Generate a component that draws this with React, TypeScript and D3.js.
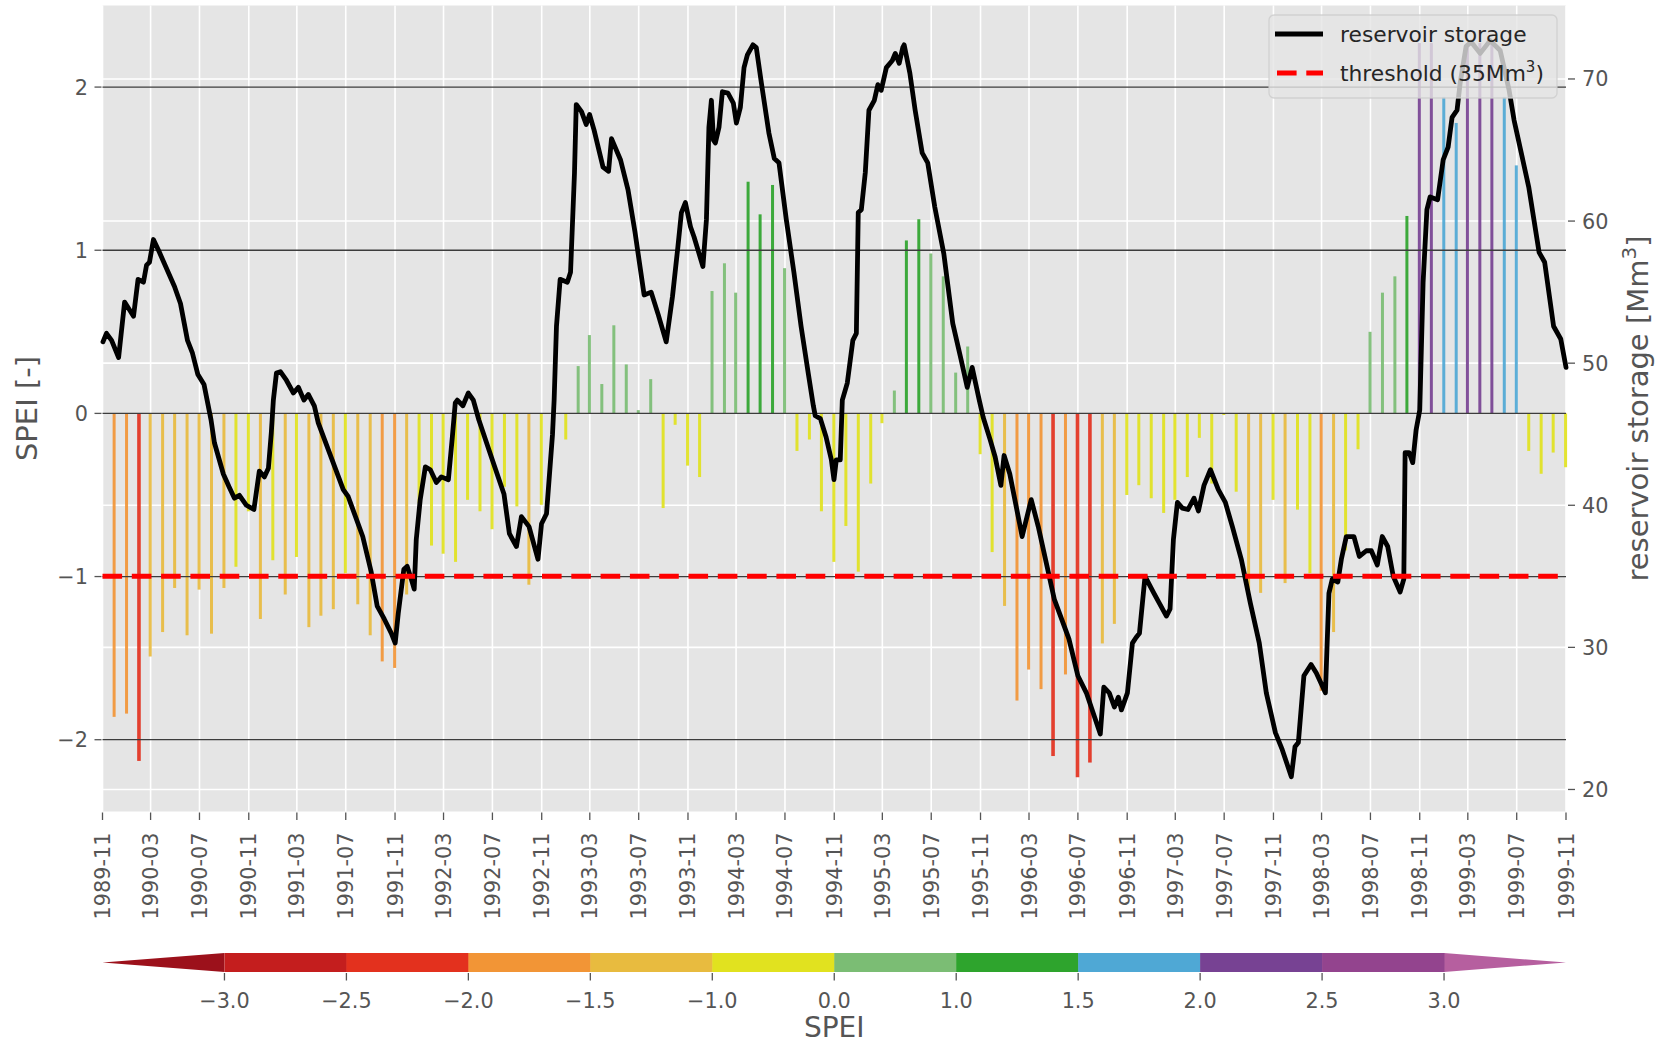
import { useEffect, useRef } from 'react'
import * as d3 from 'd3'

// monthly SPEI, first value is 1989-11 (plotted at month end)
const speiStart = new Date(1989, 10, 1)
const speiValues = [
  -1.86, -1.84, -2.13, -1.49, -1.34, -1.07, -1.36, -1.08, -1.35, -1.07, -0.94, -0.6,
  -1.26, -0.9, -1.11, -0.88, -1.31, -1.24, -1.2, -0.98, -1.17, -1.36, -1.52, -1.56,
  -1.11, -0.55, -0.81, -0.86, -0.91, -0.53, -0.6, -0.71, -0.45, -0.57, -1.05, -0.56,
  0.04, -0.16, 0.29, 0.48, 0.18, 0.54, 0.3, 0.02, 0.21, -0.58, -0.07, -0.32,
  -0.39, 0.75, 0.92, 0.74, 1.42, 1.22, 1.4, 0.89, -0.23, -0.16, -0.6, -0.91,
  -0.69, -0.97, -0.43, -0.06, 0.14, 1.06, 1.19, 0.98, 0.84, 0.25, 0.41, -0.25,
  -0.85, -1.18, -1.76, -1.57, -1.69, -2.1, -1.6, -2.23, -2.14, -1.41, -1.29, -0.5,
  -0.44, -0.52, -0.61, -0.53, -0.39, -0.15, -0.43, -0.01, -0.48, -1.12, -1.1, -0.53,
  -1.04, -0.59, -0.98, -1.7, -1.34, -0.84, -0.22, 0.5, 0.74, 0.84, 1.21, 2.27,
  2.27, 1.94, 1.78, 2.27, 2.27, 2.27, 1.94, 1.52, -0.23, -0.37, -0.24, -0.33,
]

// reservoir storage [Mm3], time as decimal year
const storageYears = [
  1989.836, 1989.86, 1989.895, 1989.943, 1989.984, 1990.045, 1990.076, 1990.113, 1990.134, 1990.154,
  1990.181, 1990.222, 1990.325, 1990.366, 1990.414, 1990.448, 1990.485, 1990.527, 1990.575, 1990.598,
  1990.659, 1990.698, 1990.735, 1990.769, 1990.817, 1990.868, 1990.905, 1990.94, 1990.967, 1990.987,
  1991.001, 1991.022, 1991.049, 1991.09, 1991.138, 1991.172, 1991.21, 1991.24, 1991.281, 1991.308,
  1991.479, 1991.513, 1991.612, 1991.67, 1991.711, 1991.759, 1991.807, 1991.834, 1991.855, 1991.893,
  1991.916, 1991.944, 1991.964, 1991.978, 1992.005, 1992.04, 1992.074, 1992.115, 1992.149, 1992.197,
  1992.224, 1992.244, 1992.258, 1992.296, 1992.333, 1992.367, 1992.405, 1992.49, 1992.576, 1992.613,
  1992.661, 1992.695, 1992.747, 1992.808, 1992.832, 1992.866, 1992.907, 1992.918, 1992.934, 1992.959,
  1993.008, 1993.03, 1993.057, 1993.069, 1993.105, 1993.137, 1993.16, 1993.191, 1993.252, 1993.29,
  1993.31, 1993.372, 1993.423, 1993.471, 1993.533, 1993.581, 1993.63, 1993.684, 1993.727, 1993.764,
  1993.788, 1993.815, 1993.85, 1993.874, 1993.935, 1993.959, 1993.976, 1993.993, 1994.007, 1994.02,
  1994.045, 1994.068, 1994.106, 1994.143, 1994.164, 1994.191, 1994.216, 1994.239, 1994.277, 1994.3,
  1994.335, 1994.386, 1994.423, 1994.455, 1994.505, 1994.557, 1994.606, 1994.655, 1994.69, 1994.703,
  1994.738, 1994.777, 1994.813, 1994.831, 1994.847, 1994.874, 1994.888, 1994.922, 1994.96, 1994.984,
  1994.997, 1995.018, 1995.045, 1995.07, 1995.107, 1995.131, 1995.154, 1995.189, 1995.23, 1995.25,
  1995.277, 1995.301, 1995.311, 1995.35, 1995.386, 1995.434, 1995.472, 1995.52, 1995.582, 1995.643,
  1995.701, 1995.742, 1995.776, 1995.824, 1995.851, 1995.899, 1995.933, 1995.972, 1995.994, 1996.033,
  1996.117, 1996.179, 1996.227, 1996.336, 1996.411, 1996.436, 1996.497, 1996.555, 1996.65, 1996.674,
  1996.711, 1996.746, 1996.773, 1996.794, 1996.835, 1996.869, 1996.894, 1996.917, 1996.955, 1997.016,
  1997.101, 1997.126, 1997.149, 1997.176, 1997.21, 1997.248, 1997.29, 1997.32, 1997.358, 1997.402,
  1997.456, 1997.504, 1997.552, 1997.613, 1997.675, 1997.736, 1997.784, 1997.846, 1997.893, 1997.955,
  1997.98, 1998.003, 1998.041, 1998.09, 1998.126, 1998.188, 1998.212, 1998.235, 1998.273, 1998.297,
  1998.331, 1998.383, 1998.42, 1998.468, 1998.502, 1998.543, 1998.577, 1998.614, 1998.652, 1998.699,
  1998.724, 1998.733, 1998.761, 1998.785, 1998.808, 1998.833, 1998.856, 1998.882, 1998.904, 1998.955,
  1998.993, 1999.027, 1999.054, 1999.088, 1999.109, 1999.15, 1999.185, 1999.246, 1999.314, 1999.383,
  1999.444, 1999.478, 1999.578, 1999.649, 1999.687, 1999.748, 1999.797, 1999.833,
]
const storageValues = [
  51.5, 52.1, 51.6, 50.4, 54.3, 53.3, 55.9, 55.7, 56.9, 57.1,
  58.7, 57.8, 55.4, 54.2, 51.6, 50.7, 49.2, 48.5, 46.0, 44.4,
  42.2, 41.3, 40.5, 40.7, 40.0, 39.7, 42.4, 42.0, 42.6, 45.1,
  47.4, 49.3, 49.4, 48.8, 47.9, 48.3, 47.4, 47.8, 47.0, 45.8,
  41.1, 40.6, 37.8, 35.3, 32.9, 32.0, 31.0, 30.3, 32.4, 35.5,
  35.7, 34.8, 34.1, 37.6, 40.4, 42.7, 42.5, 41.6, 42.0, 41.8,
  44.8, 47.2, 47.4, 47.0, 47.9, 47.4, 46.0, 43.4, 40.8, 38.0,
  37.1, 39.2, 38.5, 36.2, 38.7, 39.4, 45.0, 47.4, 52.6, 55.9,
  55.7, 56.4, 63.4, 68.2, 67.7, 66.8, 67.5, 66.4, 63.8, 63.5,
  65.8, 64.3, 62.2, 59.2, 54.8, 55.0, 53.4, 51.5, 54.7, 58.2,
  60.6, 61.3, 59.6, 58.9, 56.8, 60.1, 66.6, 68.5, 65.7, 65.5,
  66.6, 69.1, 69.0, 68.3, 66.9, 68.0, 70.8, 71.7, 72.4, 72.2,
  69.7, 66.2, 64.4, 64.1, 60.1, 56.4, 52.6, 49.3, 47.0, 46.3,
  46.1, 44.8, 43.2, 41.8, 43.2, 43.2, 47.4, 48.6, 51.6, 52.1,
  60.6, 60.8, 63.4, 67.8, 68.5, 69.6, 69.2, 70.8, 71.3, 71.8,
  71.1, 72.2, 72.4, 70.4, 67.8, 64.8, 64.1, 61.0, 57.7, 52.8,
  50.2, 48.3, 49.7, 47.4, 46.2, 44.6, 43.4, 41.4, 43.5, 42.2,
  37.8, 40.4, 38.5, 33.4, 31.3, 30.6, 28.0, 26.8, 23.9, 27.2,
  26.8, 25.8, 26.5, 25.6, 26.8, 30.3, 30.7, 31.0, 35.0, 33.8,
  32.2, 32.7, 37.6, 40.2, 39.8, 39.7, 40.5, 39.6, 41.4, 42.5,
  41.1, 40.2, 38.5, 36.2, 33.1, 30.3, 26.8, 24.0, 22.8, 20.9,
  23.0, 23.3, 28.0, 28.8, 28.2, 26.8, 33.8, 34.8, 34.6, 36.2,
  37.8, 37.8, 36.4, 36.8, 36.8, 35.8, 37.8, 37.1, 35.0, 33.9,
  34.8, 43.7, 43.7, 43.0, 45.3, 46.7, 55.7, 60.8, 61.7, 61.5,
  64.3, 65.2, 67.3, 67.8, 69.7, 72.3, 72.6, 71.8, 72.7, 72.0,
  69.2, 67.1, 62.4, 57.8, 57.1, 52.6, 51.7, 49.7,
]

const threshold = 35

// SPEI classes (colorbar with extensions at both ends)
const speiBounds = [-3, -2.5, -2, -1.5, -1, 0, 1, 1.5, 2, 2.5, 3]
const speiColors = [
  '#9c111b', '#c41e1e', '#e3311e', '#f29536', '#e8bb3f', '#e1e21f',
  '#7bbd74', '#2ea42d', '#4fa8d5', '#774293', '#93448e', '#b65f9f',
]
const speiTicks = [-2, -1, 0, 1, 2]
const storageTicks = [20, 30, 40, 50, 60, 70]
const cbTickLabels = ['−3.0', '−2.5', '−2.0', '−1.5', '−1.0', '0.0', '1.0', '1.5', '2.0', '2.5', '3.0']

const FONT = 'DejaVu Sans, sans-serif'

function yearToDate(t: number) {
  const y = Math.floor(t)
  const a = +new Date(y, 0, 1)
  const b = +new Date(y + 1, 0, 1)
  return new Date(a + (t - y) * (b - a))
}

export default function App() {
  const svgRef = useRef<SVGSVGElement | null>(null)

  useEffect(() => {
    if (!svgRef.current) return
    document.body.style.margin = '0'

    const width = 1656
    const height = 1045
    const left = 102.5
    const right = 1566
    const top = 5.5
    const bottom = 811.5

    const svg = d3.select(svgRef.current)
    svg.selectAll('*').remove()
    svg.attr('width', width).attr('height', height).style('font-family', FONT)

    const x = d3.scaleTime().domain([speiStart, new Date(1999, 10, 1)]).range([left, right])
    const ySpei = d3.scaleLinear().domain([-2.44, 2.5]).range([bottom, top])
    const yStor = d3.scaleLinear().domain([18.45, 75.17]).range([bottom, top])
    const color = d3.scaleThreshold<number, string>().domain(speiBounds).range(speiColors)

    const dateTicks = d3.range(0, 121, 4).map(m => d3.timeMonth.offset(speiStart, m))
    const fmt = d3.timeFormat('%Y-%m')

    // axes background
    svg.append('rect')
      .attr('x', left).attr('y', top)
      .attr('width', right - left).attr('height', bottom - top)
      .attr('fill', '#E5E5E5')

    // grid
    const grid = svg.append('g').attr('stroke', 'white').attr('stroke-width', 1.6)
    grid.selectAll('.vg').data(dateTicks).enter().append('line')
      .attr('x1', d => x(d)).attr('x2', d => x(d))
      .attr('y1', top).attr('y2', bottom)
    grid.selectAll('.hg').data(storageTicks).enter().append('line')
      .attr('x1', left).attr('x2', right)
      .attr('y1', d => yStor(d)).attr('y2', d => yStor(d))

    // SPEI bars
    const bars = speiValues.map((v, i) => ({
      date: d3.timeDay.offset(d3.timeMonth.offset(speiStart, i + 1), -1),
      v,
    }))
    svg.append('g').selectAll('rect').data(bars).enter().append('rect')
      .attr('x', d => x(d.date) - (Math.abs(d.v) >= 2 && d.v < 0 ? 1.8 : 1.5))
      .attr('width', d => (Math.abs(d.v) >= 2 && d.v < 0 ? 3.6 : 3))
      .attr('y', d => ySpei(Math.max(0, d.v)))
      .attr('height', d => Math.abs(ySpei(d.v) - ySpei(0)))
      .attr('fill', d => color(d.v))
      .attr('opacity', 0.92)

    // reference lines at SPEI ticks
    svg.append('g').selectAll('line').data(speiTicks).enter().append('line')
      .attr('x1', left).attr('x2', right)
      .attr('y1', d => ySpei(d)).attr('y2', d => ySpei(d))
      .attr('stroke', '#3c3c3c').attr('stroke-width', 1.3)

    // storage line
    const pts = storageYears.map((t, i) => ({ date: yearToDate(t), v: storageValues[i] }))
    const line = d3.line<{ date: Date; v: number }>().x(d => x(d.date)).y(d => yStor(d.v))
    svg.append('path')
      .attr('d', line(pts))
      .attr('fill', 'none')
      .attr('stroke', 'black')
      .attr('stroke-width', 4.8)
      .attr('stroke-linejoin', 'round')
      .attr('stroke-linecap', 'round')

    // threshold
    svg.append('line')
      .attr('x1', left).attr('x2', right)
      .attr('y1', yStor(threshold)).attr('y2', yStor(threshold))
      .attr('stroke', '#ff0000').attr('stroke-width', 5)
      .attr('stroke-dasharray', '19.6 9.7')

    // legend
    const lg = svg.append('g')
    lg.append('rect')
      .attr('x', 1269).attr('y', 15).attr('width', 288).attr('height', 83).attr('rx', 5)
      .attr('fill', '#E5E5E5').attr('fill-opacity', 0.8)
      .attr('stroke', '#CCCCCC').attr('stroke-opacity', 0.8).attr('stroke-width', 1.3)
    lg.append('line').attr('x1', 1275).attr('x2', 1323).attr('y1', 34).attr('y2', 34)
      .attr('stroke', 'black').attr('stroke-width', 4.8)
    lg.append('line').attr('x1', 1277).attr('x2', 1323).attr('y1', 73).attr('y2', 73)
      .attr('stroke', '#ff0000').attr('stroke-width', 5).attr('stroke-dasharray', '19.6 9.7')
    lg.append('text').attr('x', 1340).attr('y', 42).attr('font-size', 21.8).attr('fill', '#262626')
      .text('reservoir storage')
    const t2 = lg.append('text').attr('x', 1340).attr('y', 81).attr('font-size', 21.8).attr('fill', '#262626')
    t2.append('tspan').text('threshold (35Mm')
    t2.append('tspan').attr('font-size', 15).attr('dy', -9).text('3')
    t2.append('tspan').attr('dy', 9).text(')')

    // tick marks and labels
    const tickColor = '#555555'
    const ax = svg.append('g').attr('fill', tickColor).attr('font-size', 20.8)
    dateTicks.forEach(d => {
      ax.append('line').attr('x1', x(d)).attr('x2', x(d)).attr('y1', bottom + 1).attr('y2', bottom + 8.5)
        .attr('stroke', tickColor).attr('stroke-width', 1.3)
      ax.append('text')
        .attr('transform', `translate(${x(d)},${bottom + 21}) rotate(-90)`)
        .attr('text-anchor', 'end').attr('dy', '0.36em')
        .text(fmt(d))
    })
    speiTicks.forEach(v => {
      ax.append('line').attr('x1', left - 8).attr('x2', left - 1).attr('y1', ySpei(v)).attr('y2', ySpei(v))
        .attr('stroke', tickColor).attr('stroke-width', 1.3)
      ax.append('text').attr('x', left - 14.5).attr('y', ySpei(v)).attr('dy', '0.36em')
        .attr('text-anchor', 'end')
        .text(v < 0 ? '−' + Math.abs(v) : String(v))
    })
    storageTicks.forEach(v => {
      ax.append('line').attr('x1', right + 2).attr('x2', right + 9).attr('y1', yStor(v)).attr('y2', yStor(v))
        .attr('stroke', tickColor).attr('stroke-width', 1.3)
      ax.append('text').attr('x', right + 16).attr('y', yStor(v)).attr('dy', '0.36em')
        .text(String(v))
    })

    // axis labels
    svg.append('text')
      .attr('transform', `translate(26.5,${(top + bottom) / 2}) rotate(-90)`)
      .attr('text-anchor', 'middle').attr('dy', '0.36em')
      .attr('font-size', 29).attr('fill', tickColor)
      .text('SPEI [-]')
    const rl = svg.append('text')
      .attr('transform', `translate(1638,${(top + bottom) / 2}) rotate(-90)`)
      .attr('text-anchor', 'middle').attr('dy', '0.36em')
      .attr('font-size', 29).attr('fill', tickColor)
    rl.append('tspan').text('reservoir storage [Mm')
    rl.append('tspan').attr('font-size', 20).attr('dy', -12).text('3')
    rl.append('tspan').attr('dy', 12).text(']')

    // colorbar
    const cb = d3.scaleLinear().domain([0, 12]).range([left, right])
    const cbTop = 953
    const cbBot = 972
    const cbMid = (cbTop + cbBot) / 2
    const cbg = svg.append('g')
    cbg.append('path')
      .attr('d', `M${cb(1)},${cbTop}L${cb(0)},${cbMid}L${cb(1)},${cbBot}Z`)
      .attr('fill', speiColors[0])
    cbg.append('path')
      .attr('d', `M${cb(11)},${cbTop}L${cb(12)},${cbMid}L${cb(11)},${cbBot}Z`)
      .attr('fill', speiColors[11])
    cbg.selectAll('.seg').data(d3.range(1, 11)).enter().append('rect')
      .attr('x', d => cb(d)).attr('width', cb(2) - cb(1) + 0.5)
      .attr('y', cbTop).attr('height', cbBot - cbTop)
      .attr('fill', d => speiColors[d])
    cbTickLabels.forEach((lab, k) => {
      cbg.append('line').attr('x1', cb(k + 1)).attr('x2', cb(k + 1))
        .attr('y1', cbBot + 1).attr('y2', cbBot + 8.5)
        .attr('stroke', tickColor).attr('stroke-width', 1.3)
      cbg.append('text').attr('x', cb(k + 1)).attr('y', 1008)
        .attr('text-anchor', 'middle').attr('font-size', 20.8).attr('fill', tickColor)
        .text(lab)
    })
    cbg.append('text').attr('x', (left + right) / 2).attr('y', 1037)
      .attr('text-anchor', 'middle').attr('font-size', 28).attr('fill', tickColor)
      .text('SPEI')
  }, [])

  return <svg ref={svgRef} style={{ display: 'block' }} />
}
